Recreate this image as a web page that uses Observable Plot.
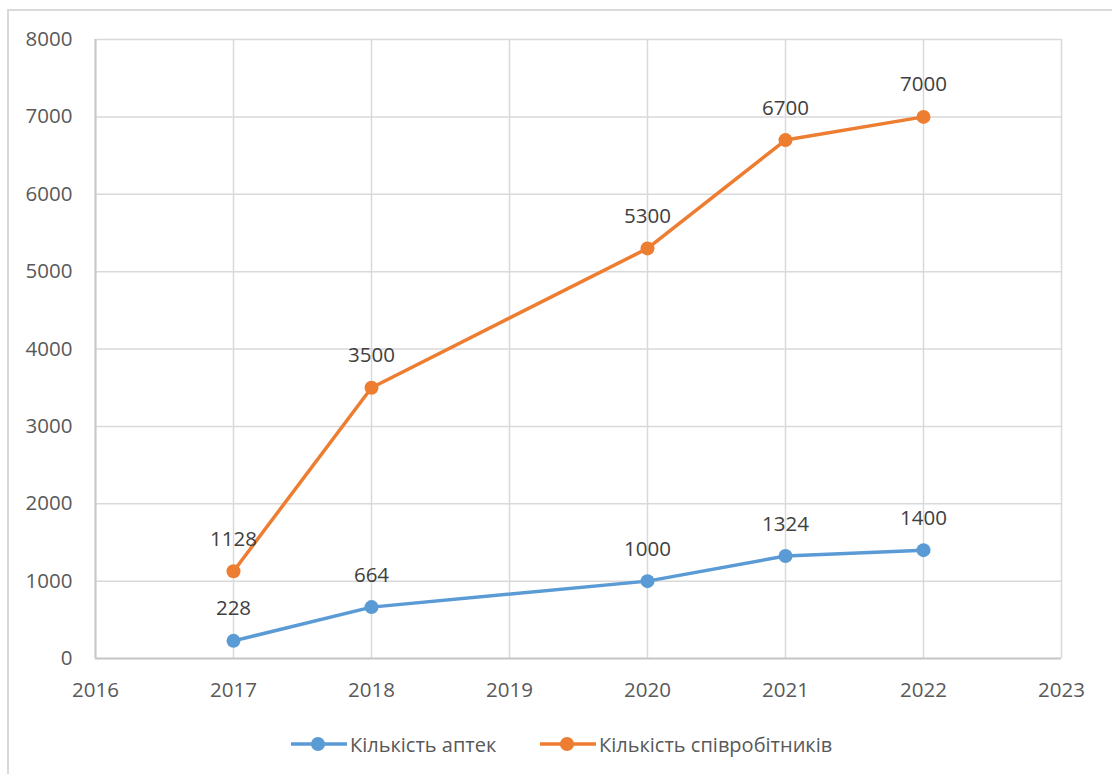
<!DOCTYPE html>
<html>
<head>
<meta charset="utf-8">
<script src="https://cdn.jsdelivr.net/npm/d3@7"></script>
<script src="https://cdn.jsdelivr.net/npm/@observablehq/plot@0.6"></script>
<style>
  html, body { margin: 0; padding: 0; background: #fff; overflow: hidden; width: 1112px; height: 774px; }
  #frame { position: absolute; left: 7px; top: 9px; width: 1120px; height: 780px; border: 2px solid #D9D9D9; box-sizing: border-box; }
  #chart { position: absolute; left: 0; top: 0; }
  #legend { position: absolute; left: 0; top: 731px; width: 1112px; height: 26px; font-family: "Open Sans", sans-serif; font-size: 20px; color: #595959; }
  .item { position: absolute; top: 0; display: flex; align-items: center; height: 26px; }
  .item svg { margin-right: 3px; }
</style>
</head>
<body>
<div id="frame"></div>
<div id="chart"></div>
<div id="legend"></div>
<script>
const years = [2017, 2018, 2020, 2021, 2022];
const pharmacies = [228, 664, 1000, 1324, 1400];
const employees = [1128, 3500, 5300, 6700, 7000];
const seriesNames = ["Кількість аптек", "Кількість співробітників"];
const seriesColors = ["#5B9BD5", "#ED7D31"];
const xTicks = [2016, 2017, 2018, 2019, 2020, 2021, 2022, 2023];
const yTicks = [0, 1000, 2000, 3000, 4000, 5000, 6000, 7000, 8000];

const data = [];
years.forEach((yr, i) => data.push({year: yr, value: pharmacies[i], series: seriesNames[0]}));
years.forEach((yr, i) => data.push({year: yr, value: employees[i], series: seriesNames[1]}));

const chart = Plot.plot({
  width: 1112,
  height: 715,
  marginLeft: 95,
  marginRight: 51,
  marginTop: 39,
  marginBottom: 57,
  x: {domain: [2016, 2023], label: null},
  y: {domain: [0, 8000], label: null},
  color: {domain: seriesNames, range: seriesColors},
  style: {fontFamily: "Open Sans, sans-serif", fontSize: "20px", color: "#595959", background: "transparent"},
  marks: [
    Plot.gridX(xTicks, {stroke: "#D9D9D9", strokeOpacity: 1, strokeWidth: 1.5}),
    Plot.gridY(yTicks, {stroke: "#D9D9D9", strokeOpacity: 1, strokeWidth: 1.5}),
    Plot.ruleX([2016], {stroke: "#C8C8C8", strokeWidth: 2}),
    Plot.ruleY([0], {stroke: "#C8C8C8", strokeWidth: 2}),
    Plot.axisY({ticks: yTicks, tickSize: 0, tickPadding: 23, fontSize: 20.5, tickFormat: d => String(d), label: null}),
    Plot.axisX({ticks: xTicks, tickSize: 0, tickPadding: 24, fontSize: 20.5, tickFormat: d => String(d), label: null}),
    Plot.line(data, {x: "year", y: "value", z: "series", stroke: "series", strokeWidth: 3.5}),
    Plot.dot(data, {x: "year", y: "value", fill: "series", r: 7}),
    Plot.text(data, {x: "year", y: "value", text: d => String(d.value), dy: -32, fill: "#404040", fontSize: 20.5})
  ]
});
document.getElementById("chart").appendChild(chart);

const legend = document.getElementById("legend");
const lefts = [291, 540];
seriesNames.forEach((name, i) => {
  const item = document.createElement("div");
  item.className = "item";
  item.style.left = lefts[i] + "px";
  item.innerHTML = `<svg width="56" height="20"><line x1="0" y1="10" x2="56" y2="10" stroke="${seriesColors[i]}" stroke-width="3.5"/><circle cx="27" cy="10" r="7" fill="${seriesColors[i]}"/></svg><span>${name}</span>`;
  legend.appendChild(item);
});
</script>
</body>
</html>
